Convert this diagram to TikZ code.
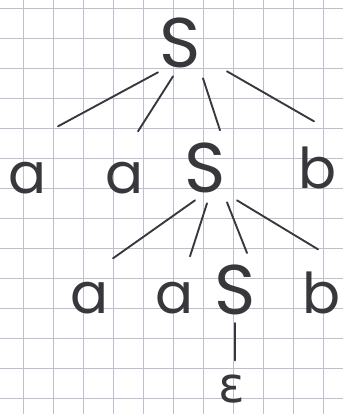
\documentclass[tikz,border=0pt]{standalone}
\usepackage{fontspec}
\setmainfont{Poppins}
\newfontfamily\grfont{DejaVu Sans}
\definecolor{gridcol}{RGB}{190,190,206}
\definecolor{pen}{RGB}{55,55,60}

\begin{document}
\begin{tikzpicture}[
    var/.style={
        text=pen,
        font=\fontsize{60}{60}\selectfont,
        inner sep=1pt
    },
    term/.style={
        text=pen,
        font=\fontsize{48}{48}\selectfont,
        inner sep=1pt
    },
    edge/.style={
        draw=pen,
        line width=1.6pt,
        line cap=round
    }
]

% paper
\useasboundingbox (0,0) rectangle (10.29,-12.42);
\fill[white] (0,0) rectangle (10.29,-12.42);
\foreach \x in {0,...,10}
    \draw[gridcol, line width=0.6pt] (0.69+0.9*\x,0) -- (0.69+0.9*\x,-12.42);
\foreach \y in {0,...,13}
    \draw[gridcol, line width=0.6pt] (0,-0.24-0.9*\y) -- (10.29,-0.24-0.9*\y);

% top level
\node[var] (s0) at (5.4,-1.3) {S};

\node[term] (a1) at (0.84,-5.35) {a};
\node[term] (a2) at (3.75,-5.35) {a};
\node[var]  (s1) at (6.15,-5.05) {S};
\node[term] (b1) at (9.54,-5.05) {b};

\node[term] (a3) at (2.7,-8.95) {a};
\node[term] (a4) at (5.25,-8.95) {a};
\node[var]  (s2) at (7.05,-8.7) {S};
\node[term] (b2) at (9.66,-8.8) {b};

\node[term, font=\grfont\fontsize{42}{42}\selectfont] (eps) at (6.96,-11.68) {ε};

% first derivation step
\draw[edge] ([shift={(-0.66,-0.87)}]s0.center) -- ([shift={(0.9,1.56)}]a1.center);
\draw[edge] ([shift={(-0.21,-0.99)}]s0.center) -- ([shift={(0.39,1.41)}]a2.center);
\draw[edge] ([shift={(0.69,-1.05)}]s0.center) -- ([shift={(0.45,1.14)}]s1.center);
\draw[edge] ([shift={(1.41,-0.84)}]s0.center) -- ([shift={(-0.12,1.41)}]b1.center);

% second derivation step
\draw[edge] ([shift={(-0.3,-0.96)}]s1.center) -- ([shift={(0.69,1.2)}]a3.center);
\draw[edge] ([shift={(0.06,-1.05)}]s1.center) -- ([shift={(0.45,1.26)}]a4.center);
\draw[edge] ([shift={(0.66,-1.02)}]s1.center) -- ([shift={(0.36,1.11)}]s2.center);
\draw[edge] ([shift={(0.96,-0.96)}]s1.center) -- ([shift={(-0.12,1.32)}]b2.center);

% empty word
\draw[edge] ([shift={(0,-0.99)}]s2.center) -- ([shift={(0.09,0.87)}]eps.center);

\end{tikzpicture}
\end{document}
